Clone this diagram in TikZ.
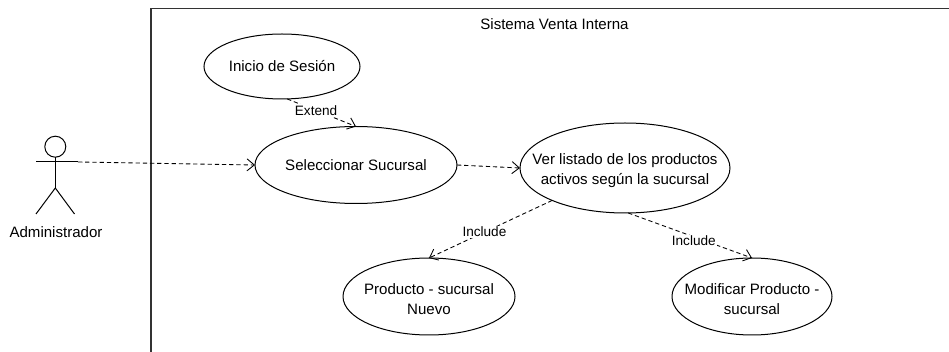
\documentclass[tikz,border=0pt]{standalone}
\usepackage{fontspec}
\setmainfont{Liberation Sans}
\usetikzlibrary{positioning, arrows.meta, shapes.geometric}

\newcommand{\firstline}{\rule{0pt}{12pt}}

\tikzset{
	usecase/.style={ellipse, draw, line width=0.75pt, inner sep=-20pt, outer sep=0pt, align=center, font=\fontsize{11.3}{15}\selectfont},
	link/.style={draw, dashed, dash pattern=on 3.2pt off 2.2pt, line width=0.65pt, -{Straight Barb[length=5.5pt, width=9pt]}},
	linktext/.style={fill=white, inner sep=1pt, font=\fontsize{10.2}{12}\selectfont}
}

\begin{document}
\begin{tikzpicture}[x=0.75pt, y=-0.75pt]
		
		\useasboundingbox (0,0) rectangle (949,352);
		\fill[white] (0,0) rectangle (949,352);
		
		%Frame
		\draw[line width=0.8pt, black!80] (151,352) |- (949,8.5);
		\node (sistema) at (554.5,24.5) [font=\fontsize{11.3}{14}\selectfont]{Sistema Venta Interna};
		
		%Actor
		\node (head) at (55.3,146.7) [circle, draw, line width=0.75pt, minimum size=15.75pt, inner sep=0pt, outer sep=0pt]{};
		\coordinate (hip) at (55.3,188);
		\coordinate (armL) at (36,162);
		\coordinate (armR) at (78,162);
		\coordinate (legL) at (36,214);
		\coordinate (legR) at (74.5,214);
		\draw[line width=0.75pt] (head.south) -- (hip);
		\draw[line width=0.75pt] (armL) -- (armR);
		\draw[line width=0.75pt] (legL) -- (hip) -- (legR);
		\node (admin) at (56,232) [font=\fontsize{11.3}{14}\selectfont]{Administrador};
		
		%Nodes
		\node (inicio) at (282,66.5) [usecase, minimum width=117pt, minimum height=48.75pt]{Inicio de Sesión};
		\node (seleccionar) at (356,165) [usecase, minimum width=151.5pt, minimum height=57.75pt]{Seleccionar Sucursal};
		\node (listado) at (625,168) [usecase, minimum width=157.5pt, minimum height=67.5pt]{\firstline Ver listado de los productos \\ activos según la sucursal};
		\node (nuevo) at (429,296.5) [usecase, minimum width=129pt, minimum height=57.75pt]{\firstline Producto - sucursal \\ Nuevo};
		\node (modificar) at (752,296.5) [usecase, minimum width=120pt, minimum height=57.75pt]{\firstline Modificar Producto - \\ sucursal};
		
		%Links
		\draw[link] (armR) -- (seleccionar.west);
		\draw[link] (inicio.-81) -- node[linktext, pos=0.42]{Extend} (seleccionar.north);
		\draw[link] (seleccionar.east) -- (listado.west);
		\draw[link] (listado.204) -- node[linktext, pos=0.55]{Include} (nuevo.north);
		\draw[link] (listado.-86) -- node[linktext, pos=0.53, yshift=-3pt]{Include} (modificar.north);
		
\end{tikzpicture}
\end{document}
